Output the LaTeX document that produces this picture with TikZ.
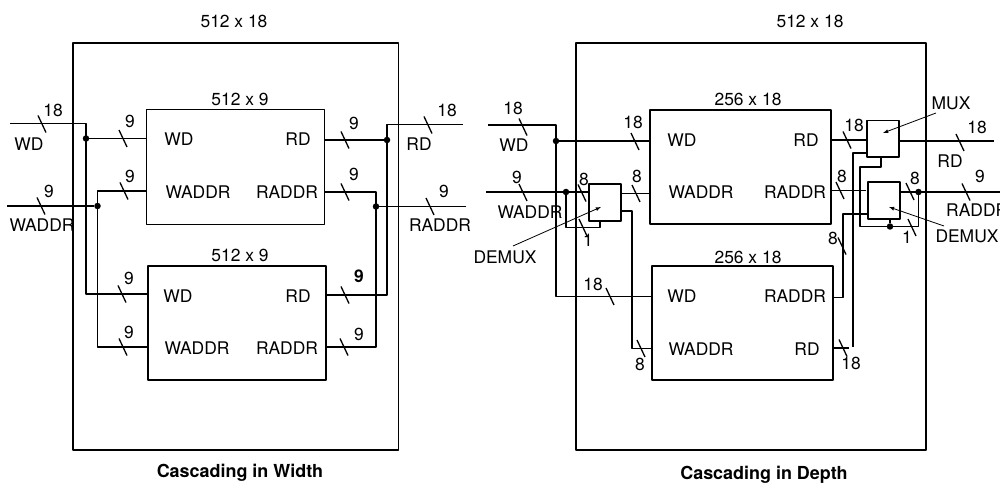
\documentclass[tikz,border=0pt]{standalone}
\usepackage{fontspec}
\setmainfont{TeX Gyre Heros}
\usetikzlibrary{positioning}
\tikzset{
  wire/.style={black,line width=1.6bp},
  outerbox/.style={draw,line width=1.5bp,inner sep=0pt},
  ram/.style={draw,line width=1.6bp,inner sep=0pt},
  muxbox/.style={draw,line width=1.6bp,inner sep=0pt},
  txt/.style={inner sep=0pt,font=\fontsize{17.5}{20}\selectfont},
  captxt/.style={inner sep=0pt,font=\fontsize{18}{20}\selectfont\bfseries},
  junct/.style={circle,fill=black,inner sep=0pt,minimum size=6.5bp},
  tick/.style={black,line width=1.3bp},
  callout/.style={black,->,>=latex,line width=0.8bp},
}
\begin{document}
\begin{tikzpicture}[x=1bp,y=-1bp,line join=bevel]
\useasboundingbox (0,0) rectangle (1000,484);
%% cascading in width
\node (w_outer) at (235.75,246.5) [outerbox,minimum width=325.5bp,minimum height=407bp] {};
\node (w_ram_a) at (235.5,167) [ram,minimum width=178bp,minimum height=115bp] {};
\node (w_ram_b) at (237,323) [ram,minimum width=178bp,minimum height=114bp] {};
\node (w_title) at (234,21) [txt] {512 x 18};
\node (w_title_a) at (240,99) [txt] {512 x 9};
\node (w_title_b) at (240,255) [txt] {512 x 9};
\node (w_a_wd) at (179,139) [txt] {WD};
\node (w_a_waddr) at (198,192) [txt] {WADDR};
\node (w_a_rd) at (298,139) [txt] {RD};
\node (w_a_raddr) at (287,192) [txt] {RADDR};
\node (w_b_wd) at (178,296) [txt] {WD};
\node (w_b_waddr) at (197,348) [txt] {WADDR};
\node (w_b_rd) at (298,296) [txt] {RD};
\node (w_b_raddr) at (287,348) [txt] {RADDR};
\node (w_wd) at (29,144) [txt] {WD};
\node (w_waddr) at (42,225) [txt] {WADDR};
\node (w_rd) at (419,144) [txt] {RD};
\node (w_raddr) at (440,225) [txt] {RADDR};
\node (w_n_1) at (53,110) [txt] {18};
\node (w_n_2) at (49,191) [txt] {9};
\node (w_n_3) at (130,121) [txt] {9};
\node (w_n_4) at (130,176) [txt] {9};
\node (w_n_5) at (354,123) [txt] {9};
\node (w_n_6) at (354,174) [txt] {9};
\node (w_n_7) at (447,110) [txt] {18};
\node (w_n_8) at (444,191) [txt] {9};
\node (w_n_9) at (129,278) [txt] {9};
\node (w_n_10) at (129,332) [txt] {9};
\node (w_n_11) at (359,276) [txt,font=\fontsize{17.5}{20}\selectfont\bfseries] {9};
\node (w_n_12) at (359,334) [txt] {9};
\node (w_cap) at (240,473) [captxt] {Cascading in Width};
%
\node (w_dot_wd) at (86,138.5) [junct] {};
\node (w_dot_waddr) at (97.5,206) [junct] {};
\node (w_dot_rd) at (387,140) [junct] {};
\node (w_dot_raddr) at (376,206.5) [junct] {};
\coordinate (w_in_wd) at (10,123.5);
\coordinate (w_in_waddr) at (7,206);
\coordinate (w_out_rd) at (463,124.5);
\coordinate (w_out_raddr) at (466,206.5);
\coordinate (w_turn_wd) at (86,294);
\coordinate (w_turn_waddr) at (97.5,191);
\coordinate (w_turn_waddr_b) at (97.5,347);
\coordinate (w_turn_rd) at (387,295);
\coordinate (w_turn_raddr) at (376,192);
\coordinate (w_turn_raddr_b) at (376,347);
\draw [wire] (w_in_wd) -| (w_turn_wd) -- (w_turn_wd -| w_ram_b.west);
\draw [wire] (w_dot_wd) -- (w_dot_wd -| w_ram_a.west);
\draw [wire] (w_in_waddr) -- (w_dot_waddr);
\draw [wire] (w_turn_waddr -| w_ram_a.west) -- (w_turn_waddr) -- (w_turn_waddr_b) -- (w_turn_waddr_b -| w_ram_b.west);
\draw [wire] (w_out_rd) -| (w_turn_rd) -- (w_turn_rd -| w_ram_b.east);
\draw [wire] (w_dot_rd) -- (w_dot_rd -| w_ram_a.east);
\draw [wire] (w_out_raddr) -- (w_dot_raddr);
\draw [wire] (w_turn_raddr -| w_ram_a.east) -- (w_turn_raddr) -- (w_turn_raddr_b) -- (w_turn_raddr_b -| w_ram_b.east);
%
\foreach \x/\y in {42/124,41/206,123/138.5,124/191,345/140,345/192,428/125,430/206.5,122/294,123/347,345/295,344/347}
  \draw [tick] (\x,\y) ++(-4,-8.5) -- ++(8,17);
%% cascading in depth
\node (d_outer) at (751,246.5) [outerbox,minimum width=350bp,minimum height=407bp] {};
\node (d_ram_a) at (740.5,167) [ram,minimum width=181bp,minimum height=114bp] {};
\node (d_ram_b) at (742.5,323) [ram,minimum width=181bp,minimum height=114bp] {};
\node (d_demux_in) at (605,202.25) [muxbox,minimum width=31.5bp,minimum height=37bp] {};
\node (d_mux) at (883,139) [muxbox,minimum width=31.5bp,minimum height=36.6bp] {};
\node (d_demux_out) at (884,200.8) [muxbox,minimum width=31.5bp,minimum height=37bp] {};
\node (d_title) at (810,21) [txt] {512 x 18};
\node (d_title_a) at (748,99) [txt] {256 x 18};
\node (d_title_b) at (748,257) [txt] {256 x 18};
\node (d_a_wd) at (682,140) [txt] {WD};
\node (d_a_waddr) at (701,192) [txt] {WADDR};
\node (d_a_rd) at (806,140) [txt] {RD};
\node (d_a_raddr) at (795,192) [txt] {RADDR};
\node (d_b_wd) at (682,296) [txt] {WD};
\node (d_b_waddr) at (701,349) [txt] {WADDR};
\node (d_b_raddr) at (795,296) [txt] {RADDR};
\node (d_b_rd) at (807,349) [txt] {RD};
\node (d_wd) at (514,145) [txt] {WD};
\node (d_waddr) at (530,212) [txt] {WADDR};
\node (d_rd) at (950,161) [txt] {RD};
\node (d_raddr) at (946,210) [txt,anchor=west] {RADDR};
\node (d_lbl_demux_in) at (505,257) [txt] {DEMUX};
\node (d_lbl_mux) at (951,103) [txt] {MUX};
\node (d_lbl_demux_out) at (967,236) [txt] {DEMUX};
\node (d_n_1) at (513,108) [txt] {18};
\node (d_n_2) at (517,177) [txt] {9};
\node (d_n_3) at (584,179) [txt] {8};
\node (d_n_4) at (633,122) [txt] {18};
\node (d_n_5) at (637,176) [txt] {8};
\node (d_n_6) at (588,240) [txt] {1};
\node (d_n_7) at (854,125) [txt] {18};
\node (d_n_8) at (842,176) [txt] {8};
\node (d_n_9) at (915,178) [txt] {8};
\node (d_n_10) at (907,237) [txt] {1};
\node (d_n_11) at (833,238) [txt] {8};
\node (d_n_12) at (977,127) [txt] {18};
\node (d_n_13) at (980,176) [txt] {9};
\node (d_n_14) at (593,284) [txt] {18};
\node (d_n_15) at (640,364) [txt] {8};
\node (d_n_16) at (851,363) [txt] {18};
\node (d_cap) at (764,475) [captxt] {Cascading in Depth};
%
\node (d_dot_wd) at (556,141) [junct] {};
\node (d_dot_waddr) at (566,192) [junct] {};
\node (d_dot_raddr) at (918.5,192) [junct] {};
\node (d_dot_sel) at (890,226.5) [junct] {};
\coordinate (d_in_wd) at (488,125);
\coordinate (d_in_waddr) at (486,192);
\coordinate (d_turn_wd) at (556,296.5);
\coordinate (d_sel_in_a) at (566,227.5);
\coordinate (d_sel_in_b) at (600,227.5);
\coordinate (d_addr_out) at (621,193.5);
\coordinate (d_addr_turn) at (632,211);
\coordinate (d_addr_end) at (632,348.5);
\coordinate (d_rd_in) at (831,140);
\coordinate (d_rd_out) at (994,141);
\coordinate (d_raddr_out) at (1000,192);
\coordinate (d_raddr_end) at (866,190.5);
\coordinate (d_rdb_end) at (849,348);
\coordinate (d_rdb_top) at (853,347);
\coordinate (d_rdb_turn) at (853,153);
\coordinate (d_sel_a) at (881,167);
\coordinate (d_sel_b) at (860,167);
\coordinate (d_sel_c) at (860,226.5);
\coordinate (d_sel_d) at (918.5,226.5);
\coordinate (d_addrb_a) at (843,214);
\coordinate (d_addrb_b) at (843,297.5);
\coordinate (d_tip_in) at (601,207);
\coordinate (d_tail_in) at (513,246);
\coordinate (d_tip_mux) at (883,133);
\coordinate (d_tail_mux) at (936,113);
\coordinate (d_tip_out) at (889,207);
\coordinate (d_tail_out) at (944,226);
\draw [wire] (d_in_wd) -| (d_turn_wd) -- (d_turn_wd -| d_ram_b.west);
\draw [wire] (d_dot_wd) -- (d_dot_wd -| d_ram_a.west);
\draw [wire] (d_in_waddr) -- (d_in_waddr -| d_demux_in.west);
\draw [wire] (d_dot_waddr) -- (d_sel_in_a) -- (d_sel_in_b) -- (d_sel_in_b |- d_demux_in.south);
\draw [wire] (d_addr_out) -- (d_addr_out -| d_ram_a.west);
\draw [wire] (d_demux_in.east |- d_addr_turn) -- (d_addr_turn) -- (d_addr_end) -- (d_addr_end -| d_ram_b.west);
\draw [wire] (d_rd_in) -- (d_rd_in -| d_mux.west);
\draw [wire] (d_mux.west |- d_rdb_turn) -- (d_rdb_turn) -- (d_rdb_top);
\draw [wire] (d_ram_b.east |- d_rdb_end) -- (d_rdb_end);
\draw [wire] (d_sel_a |- d_mux.south) -- (d_sel_a) -- (d_sel_b) -- (d_sel_c) -- (d_sel_d) -- (d_dot_raddr);
\draw [wire] (d_dot_sel) -- (d_dot_sel |- d_demux_out.south);
\draw [wire] (d_ram_a.east |- d_raddr_end) -- (d_raddr_end);
\draw [wire] (d_demux_out.east |- d_raddr_out) -- (d_raddr_out);
\draw [wire] (d_demux_out.west |- d_addrb_a) -- (d_addrb_a) -- (d_addrb_b) -- (d_addrb_b -| d_ram_b.east);
\draw [wire] (d_mux.east |- d_rd_out) -- (d_rd_out);
\draw [callout] (d_tail_in) -- (d_tip_in);
\draw [callout] (d_tail_mux) -- (d_tip_mux);
\draw [callout] (d_tail_out) -- (d_tip_out);
%
\foreach \x/\y in {523/127,523/192.5,582/193,635/141.5,636/193.5,583/227.5,847/140,840/190.5,910/191.5,912/227.5,842/246,960/142.5,966/192,843/348,610/296.5,641/348.5}
  \draw [tick] (\x,\y) ++(-4,-8.5) -- ++(8,17);
\end{tikzpicture}
\end{document}
